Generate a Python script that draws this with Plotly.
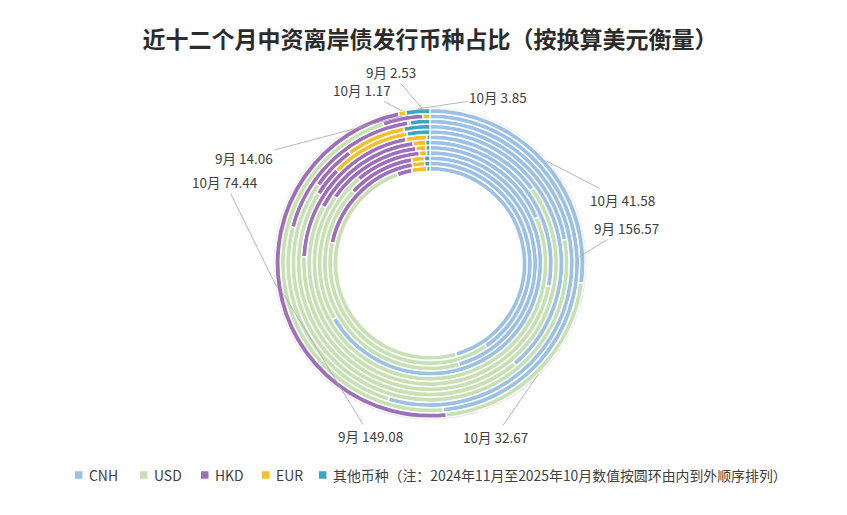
import math
import plotly.graph_objects as go

# ---- data (inner ring = 2024年11月, outer ring = 2025年10月) ----
months = ["2024年11月", "2024年12月", "2025年1月", "2025年2月", "2025年3月", "2025年4月",
          "2025年5月", "2025年6月", "2025年7月", "2025年8月", "9月", "10月"]
categories = ["CNH", "USD", "HKD", "EUR", "其他币种"]
legend_note = "（注：2024年11月至2025年10月数值按圆环由内到外顺序排列）"
cnh = [91.1, 101.4, 82.0, 100.0, 40.9, 64.5, 30.0, 101.1, 46.7, 104.0, 156.57, 41.58]
usd = [97.8, 94.4, 74.5, 33.3, 145.4, 125.9, 121.7, 117.0, 131.3, 46.4, 149.08, 32.67]
hkd = [5.0, 47.2, 18.5, 14.4, 29.3, 34.5, 42.2, 9.4, 11.1, 35.0, 14.06, 74.44]
eur = [5.0, 4.9, 3.5, 1.6, 3.1, 3.8, 5.3, 25.3, 14.6, 0.5, 2.53, 1.17]
oth = [1.1, 2.1, 1.5, 0.7, 1.2, 1.3, 0.8, 7.2, 6.4, 4.2, 0.0, 3.85]

colors = ["#9DC0E5", "#C7E1B5", "#9E70BC", "#F3BF2C", "#3FA4BE"]

# labelled slices: (ring index, category index, label centre x, label centre y) in page px
labelled = [
    (11, 0, 622, 200), (10, 0, 626, 228),
    (11, 1, 495, 437), (10, 1, 370, 436),
    (11, 2, 225, 182), (10, 2, 244, 158),
    (11, 3, 362, 90), (10, 3, 391, 72),
    (11, 4, 498, 97),
]
# legend entry left edges (page px)
legend_x = [75, 140, 201, 262, 319]
legend_y = 475

OFF = 8  # page body margin
W, H = 839, 507
cx, cy = 430.0 - OFF, 263.3 - OFF
R0, band = 92.0, 5.25

fig = go.Figure()
series = [cnh, usd, hkd, eur, oth]
full_labels = categories[:-1] + [categories[-1] + legend_note]
for k in range(len(months)):
    R = R0 + (k + 1) * band
    vals = [s[k] for s in series]
    fig.add_trace(go.Pie(
        labels=full_labels, values=vals, name=months[k],
        sort=False, direction="clockwise", rotation=0,
        hole=(R - band) / R,
        domain=dict(x=[(cx - R) / W, (cx + R) / W], y=[1 - (cy + R) / H, 1 - (cy - R) / H]),
        marker=dict(colors=colors, line=dict(color="white", width=1.4)),
        textinfo="none", hoverinfo="label+value+percent+name",
        showlegend=False,
    ))

annotations = []
for ring, cat, tx, ty in labelled:
    vals = [s[ring] for s in series]
    total = sum(vals)
    mid = (sum(vals[:cat]) + vals[cat] / 2) / total * 2 * math.pi
    R = R0 + (ring + 1) * band
    px = cx + R * math.sin(mid)
    py = cy - R * math.cos(mid)
    annotations.append(dict(
        x=px / W, y=1 - py / H, xref="paper", yref="paper",
        text=f"{months[ring]} {vals[cat]:.2f}",
        showarrow=True, arrowhead=0, arrowwidth=0.8, arrowcolor="#A6A6A6",
        ax=(tx - OFF) - px, ay=(ty - OFF) - py, standoff=0,
        font=dict(size=13.5, color="#404040", family="Noto Sans CJK SC"),
    ))

shapes = [dict(type="circle", xref="paper", yref="paper",
               x0=(cx - R0 - 12 * band - 0.8) / W, x1=(cx + R0 + 12 * band + 0.8) / W,
               y0=1 - (cy + R0 + 12 * band + 0.8) / H, y1=1 - (cy - R0 - 12 * band - 0.8) / H,
               line=dict(color="#E3E3E3", width=1.2), layer="below")]

# legend: colour squares + real text
for i, name in enumerate(full_labels):
    lx = legend_x[i] - OFF
    ly = legend_y - OFF
    shapes.append(dict(type="rect", xref="paper", yref="paper",
                       x0=lx / W, x1=(lx + 7.5) / W,
                       y0=1 - (ly + 3.75) / H, y1=1 - (ly - 3.75) / H,
                       fillcolor=colors[i], line=dict(width=0)))
    annotations.append(dict(x=(lx + 12) / W, y=1 - ly / H, xref="paper", yref="paper",
                            xanchor="left", yanchor="middle", showarrow=False, text=name,
                            font=dict(size=13.9, color="#404040", family="Noto Sans CJK SC")))

fig.update_layout(
    width=W, height=H,
    margin=dict(l=0, r=0, t=0, b=0),
    paper_bgcolor="white", plot_bgcolor="white",
    font=dict(family="Noto Sans CJK SC", color="#404040"),
    title=dict(text="<b>近十二个月中资离岸债发行币种占比（按换算美元衡量）</b>",
               x=(430 - OFF) / W, xanchor="center", y=1 - (40 - OFF) / H, yanchor="middle",
               yref="container",
               font=dict(size=23, color="#2B2B2B", family="Noto Sans CJK SC")),
    showlegend=False,
    annotations=annotations,
    shapes=shapes,
)

fig.write_html("out.html")
